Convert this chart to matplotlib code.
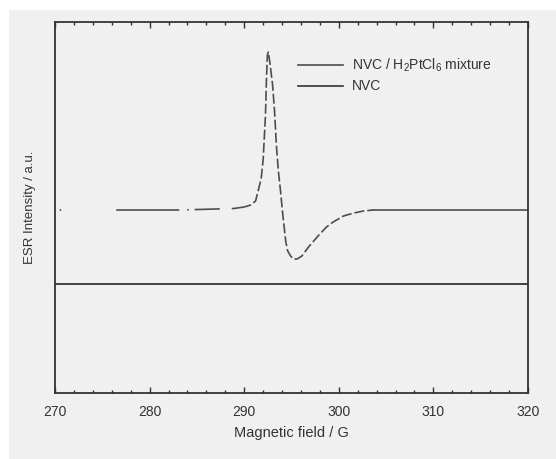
import matplotlib
matplotlib.use("Agg")
import matplotlib.pyplot as plt
from matplotlib.patches import Rectangle
from matplotlib.ticker import MultipleLocator
from matplotlib.lines import Line2D
import numpy as np

plt.rcParams['font.family'] = ['Liberation Sans', 'DejaVu Sans']
plt.rcParams['mathtext.default'] = 'regular'
plt.rcParams['lines.scale_dashes'] = False

# ---- data ----
mix_field = [270.5, 276.6, 283.2, 288.9, 290.0, 290.7, 291.2, 291.5, 291.8, 292.0,
             292.25, 292.35, 292.45, 292.55, 292.75, 293.0, 293.2, 293.4, 293.6,
             293.85, 294.05, 294.2, 294.4, 294.6, 294.9, 295.2, 295.6, 296.1,
             296.8, 297.9, 298.7, 299.4, 300.5, 301.6, 302.6, 303.6, 320.0]
mix_int = [0, 0, 0, 1.5, 3, 5, 9, 20, 32, 50,
           95, 130, 155, 158, 145, 125, 100, 65, 40,
           18, -2, -15, -32, -41, -46, -49, -49, -46,
           -37, -25, -17, -12, -6, -3, -1, 0, 0]
nvc_field = [270, 320]
nvc_int = [-74, -74]

labels = ["NVC / H$_2$PtCl$_6$ mixture", "NVC"]
xticks = [270, 280, 290, 300, 310, 320]

# segment boundaries (field) for the rendering style
left_end = 290.0
curve_end = 303.6

W, H = 556, 459
fig = plt.figure(figsize=(W / 100, H / 100), dpi=100, facecolor='white')
bg = '#f0f0f0'
fig.patches.append(Rectangle((9 / W, 0), 1 - 9 / W, 1 - 10 / H,
                             transform=fig.transFigure, facecolor=bg,
                             edgecolor='none', zorder=-10))

ax = fig.add_axes([55 / W, 1 - 393 / H, (528 - 55) / W, (393 - 22) / H])
ax.set_facecolor(bg)

f = np.array(mix_field)
v = np.array(mix_int)
px = 0.72  # points per pixel
m1 = f <= left_end
m2 = (f >= left_end) & (f <= curve_end)
m3 = f >= curve_end
lc = '#4d4d4d'
lw = 1.2
ax.plot(f[m1], v[m1], color=lc, lw=lw,
        linestyle=(0, [1.5 * px, 55 * px, 63 * px, 8 * px, 1.5 * px, 6 * px,
                       25 * px, 12 * px, 40 * px, 1]))
ax.plot(f[m2], v[m2], color=lc, lw=lw, linestyle=(2, [10 * px, 3 * px]))
ax.plot(f[m3], v[m3], color=lc, lw=lw, linestyle='-')
ax.plot(nvc_field, nvc_int, color='#333333', lw=1.3)

ax.set_xlim(270, 320)
ax.set_ylim(-183, 188)
ax.set_xticks(xticks)
ax.set_xticklabels([str(t) for t in xticks])
ax.xaxis.set_minor_locator(MultipleLocator(2))
ax.tick_params(axis='x', which='both', direction='in', top=True, bottom=True,
               colors='#333333', labelsize=10, pad=9)
ax.tick_params(axis='x', which='major', length=4.5, width=1.0)
ax.tick_params(axis='x', which='minor', length=2.5, width=1.0)
ax.tick_params(axis='y', which='both', left=False, labelleft=False)
for s in ax.spines.values():
    s.set_color('#333333')
    s.set_linewidth(1.3)

ax.set_xlabel("Magnetic field / G", fontsize=10.5, color='#333333', labelpad=5)
ax.set_ylabel("ESR Intensity / a.u.", fontsize=9.5, color='#333333', labelpad=14)

handles = [Line2D([], [], color=lc, lw=1.2), Line2D([], [], color='#333333', lw=1.2)]
ax.legend(handles, labels, loc='upper left', bbox_to_anchor=(0.514, 0.907),
          frameon=False, fontsize=10, handlelength=3.2, handletextpad=0.7,
          labelspacing=0.4, borderpad=0, borderaxespad=0, labelcolor='#333333')

fig.savefig("out.png", dpi=100, facecolor='white')
